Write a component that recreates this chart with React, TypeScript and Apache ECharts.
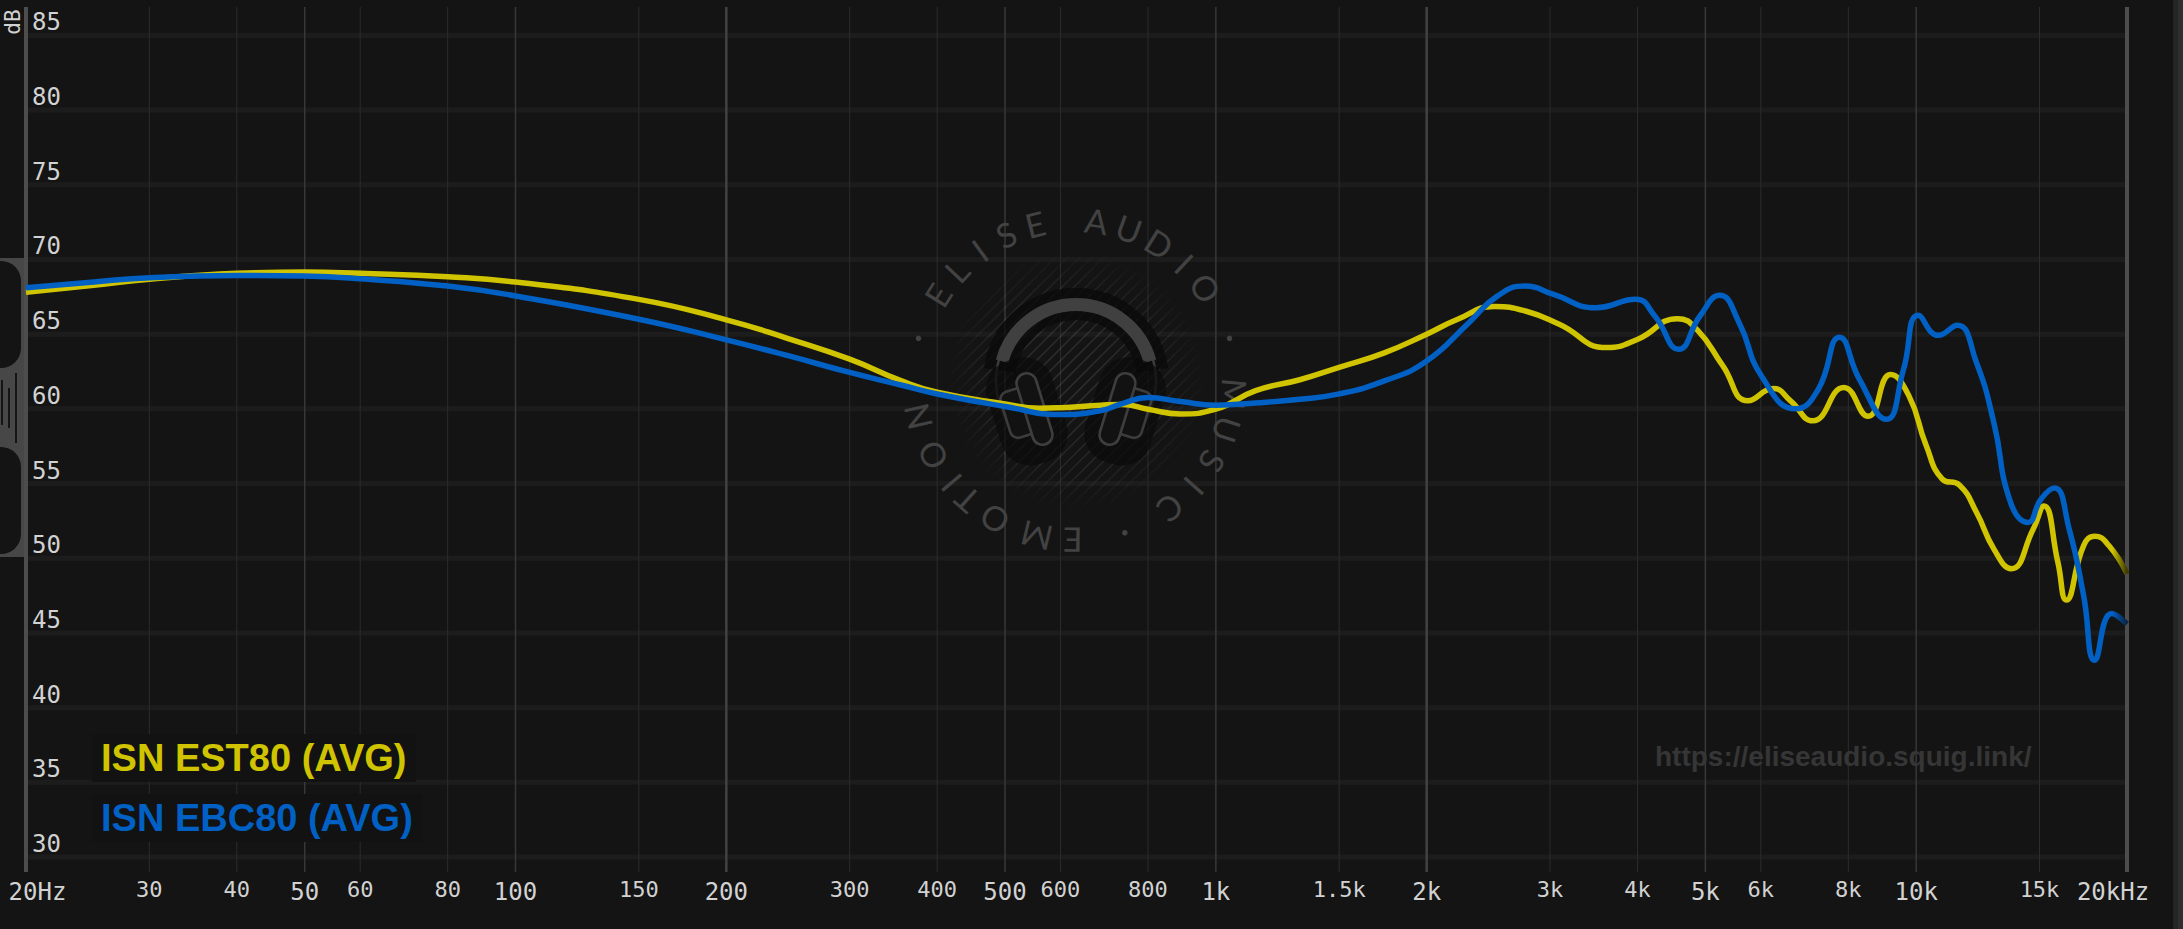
import React, { useEffect, useRef } from 'react';
import * as echarts from 'echarts';

// ---------- data ----------
const seriesNames = ['ISN EST80 (AVG)', 'ISN EBC80 (AVG)'];

const est80Freq = [20, 25, 30, 40, 50, 60, 80, 100, 150, 200, 245, 300, 355, 400, 500, 560, 600, 686, 735, 800, 890, 1000, 1140, 1318, 1500, 1740, 2000, 2215, 2498, 2767, 3093, 3618, 4004, 4562, 4865, 5294, 5752, 6255, 6616, 7118, 7882, 8536, 9192, 9765, 10325, 10897, 11525, 12191, 12907, 13668, 14696, 15222, 15932, 16382, 17342, 17986, 18842, 20000];
const est80Db = [67.8, 68.27, 68.67, 69.07, 69.16, 69.07, 68.84, 68.49, 67.33, 65.96, 64.71, 63.33, 61.89, 61.11, 60.33, 60.04, 60.08, 60.25, 60.3, 59.98, 59.66, 59.98, 61.22, 61.95, 62.78, 63.75, 65.0, 66.0, 66.85, 66.55, 65.66, 64.1, 64.66, 66.04, 65.3, 62.9, 60.54, 61.36, 60.54, 59.2, 61.43, 59.5, 62.3, 60.87, 57.6, 55.3, 54.9, 53.08, 50.63, 49.3, 51.96, 53.5, 49.75, 47.2, 50.85, 51.48, 50.85, 48.96];

const ebc80Freq = [20, 25, 30, 40, 50, 60, 80, 100, 150, 200, 245, 300, 355, 400, 500, 600, 686, 735, 800, 890, 1000, 1140, 1318, 1500, 1740, 2000, 2298, 2523, 2767, 3036, 3487, 3980, 4237, 4580, 4910, 5242, 5587, 6013, 6733, 7246, 7771, 8298, 9071, 9588, 10070, 10755, 11445, 12191, 12907, 13636, 14442, 15075, 15755, 16536, 17342, 17986, 19017, 20000];
const ebc80Db = [68.1, 68.49, 68.78, 68.93, 68.89, 68.71, 68.22, 67.56, 66.0, 64.62, 63.56, 62.44, 61.6, 61.0, 60.16, 59.62, 59.89, 60.35, 60.76, 60.49, 60.25, 60.4, 60.65, 61.0, 61.87, 63.2, 65.77, 67.55, 68.22, 67.66, 66.77, 67.33, 66.2, 63.99, 66.2, 67.6, 65.77, 62.2, 60.0, 61.3, 64.8, 61.98, 59.3, 62.6, 66.26, 64.92, 65.6, 63.1, 59.1, 53.75, 52.4, 53.96, 54.7, 51.96, 47.5, 43.17, 46.3, 45.6];

const xTickValues = [20, 30, 40, 50, 60, 80, 100, 150, 200, 300, 400, 500, 600, 800, 1000, 1500, 2000, 3000, 4000, 5000, 6000, 8000, 10000, 15000, 20000];
const xTickLabels = ['20Hz', '30', '40', '50', '60', '80', '100', '150', '200', '300', '400', '500', '600', '800', '1k', '1.5k', '2k', '3k', '4k', '5k', '6k', '8k', '10k', '15k', '20kHz'];
const xMajorTicks = [20, 50, 100, 200, 500, 1000, 2000, 5000, 10000, 20000];
const xStrongTicks = [200, 2000];
const yTickValues = [30, 35, 40, 45, 50, 55, 60, 65, 70, 75, 80, 85];

const watermarkUrl = 'https://eliseaudio.squig.link/';
const ringLetters: [string, number][] = [
  ['E', -148], ['L', -137], ['I', -126], ['S', -115], ['E', -104],
  ['A', -82], ['U', -70], ['D', -58], ['I', -46.5], ['O', -35],
  ['M', 5], ['U', 18], ['S', 30.5], ['I', 41.5], ['C', 53],
  ['E', 90.4], ['M', 103.5], ['O', 119.7], ['T', 131.7], ['I', 140], ['O', 152], ['N', 166.8],
];
const ringDots = [-15, 71.6, 195];

// ---------- layout / style ----------
const W = 2183;
const H = 929;
const GRID_L = 26;
const GRID_R = 2127;
const GRID_T = 7;
const GRID_B = 872;
const X_MIN = 20;
const X_MAX = 20000;
const Y_MIN = 29;
const Y_MAX = 86.9;
const BG = '#141414';
const YELLOW = '#d0c400';
const BLUE = '#0060c4';
const LABEL = '#d2d2d2';
const MONO = '"DejaVu Sans Mono", monospace';
const SANS = '"Liberation Sans", Arial, sans-serif';

function buildWatermark(): any[] {
  const els: any[] = [];
  const cx = 1076;
  const cy = 381;
  // hatching
  const HR = 132;
  const HS = 12;
  const start = -Math.floor((HR * Math.SQRT2) / HS) * HS;
  for (let d = start; d <= HR * Math.SQRT2; d += HS) {
    const h2 = HR * HR - (d * d) / 2;
    if (h2 <= 0) continue;
    const h = Math.sqrt(h2);
    const mx = cx + d / 2;
    const my = cy + d / 2;
    const k = h * Math.SQRT1_2;
    els.push({
      type: 'line', z: 2, silent: true,
      shape: { x1: mx - k, y1: my + k, x2: mx + k, y2: my - k },
      style: {
        stroke: new echarts.graphic.RadialGradient(cx, cy, HR, [
          { offset: 0, color: 'rgba(255,255,255,0.13)' },
          { offset: 0.65, color: 'rgba(255,255,255,0.09)' },
          { offset: 1, color: 'rgba(255,255,255,0.0)' },
        ], true),
        lineWidth: 1.3,
      },
    });
  }
  // dark halo along headband
  els.push({
    type: 'arc', z: 2, silent: true,
    shape: { cx, cy, r: 77, startAngle: (188 * Math.PI) / 180, endAngle: (352 * Math.PI) / 180, clockwise: true },
    style: { stroke: 'rgba(10,10,10,0.75)', lineWidth: 32, fill: 'none' },
  });
  // thin side arcs
  els.push({
    type: 'arc', z: 2, silent: true,
    shape: { cx, cy, r: 80, startAngle: (150 * Math.PI) / 180, endAngle: (196 * Math.PI) / 180, clockwise: true },
    style: { stroke: '#3c3c3c', lineWidth: 2.4, fill: 'none' },
  });
  els.push({
    type: 'arc', z: 2, silent: true,
    shape: { cx, cy, r: 80, startAngle: (344 * Math.PI) / 180, endAngle: (390 * Math.PI) / 180, clockwise: true },
    style: { stroke: '#3c3c3c', lineWidth: 2.4, fill: 'none' },
  });
  // headband
  els.push({
    type: 'arc', z: 2, silent: true,
    shape: { cx, cy, r: 76.5, startAngle: (195 * Math.PI) / 180, endAngle: (345 * Math.PI) / 180, clockwise: true },
    style: { stroke: '#404040', lineWidth: 13, fill: 'none' },
  });
  // earcups
  const cup = (side: number) => ({
    type: 'group', z: 2, silent: true,
    x: cx + side * 41.5, y: 409, rotation: -side * 0.3,
    children: [
      { type: 'rect', z: 2, shape: { x: side < 0 ? -42 : -26, y: -54, width: 68, height: 108, r: 30 }, style: { fill: 'rgba(10,10,10,0.7)' } },
      { type: 'rect', z: 2, shape: { x: side < 0 ? -30 : 4, y: -25, width: 26, height: 48, r: 8 }, style: { fill: '#121212', stroke: '#3c3c3c', lineWidth: 2.6 } },
      { type: 'rect', z: 2, shape: { x: -10, y: -37, width: 20, height: 74, r: 10 }, style: { fill: '#121212', stroke: '#3e3e3e', lineWidth: 2.6 } },
    ],
  });
  els.push(cup(-1));
  els.push(cup(1));
  // ring text
  const rx = 1074;
  const ry = 380;
  const rr = 161;
  ringLetters.forEach(([ch, deg]) => {
    const a = (deg * Math.PI) / 180;
    els.push({
      type: 'text', z: 2, silent: true,
      x: rx + rr * Math.cos(a), y: ry + rr * Math.sin(a),
      rotation: -(a + Math.PI / 2),
      style: { text: ch, fill: '#424242', fontSize: 34, fontWeight: 'normal', fontFamily: 'Lato, "Open Sans", sans-serif', align: 'center', verticalAlign: 'middle' },
    });
  });
  ringDots.forEach((deg) => {
    const a = (deg * Math.PI) / 180;
    els.push({
      type: 'circle', z: 2, silent: true,
      shape: { cx: rx + rr * Math.cos(a), cy: ry + rr * Math.sin(a), r: 2.8 },
      style: { fill: '#424242' },
    });
  });
  return els;
}

function buildChrome(): any[] {
  const els: any[] = [];
  // left handle
  els.push({ type: 'rect', z: 4, silent: true, shape: { x: 0, y: 258, width: 24, height: 299 }, style: { fill: '#474747' } });
  els.push({ type: 'rect', z: 4, silent: true, shape: { x: -30, y: 261, width: 51, height: 107, r: 20 }, style: { fill: BG } });
  els.push({ type: 'rect', z: 4, silent: true, shape: { x: -30, y: 447, width: 51, height: 107, r: 20 }, style: { fill: BG } });
  [[2, 380, 425], [9, 388, 428], [16, 373, 443]].forEach(([x, y1, y2]) => {
    els.push({ type: 'line', z: 4, silent: true, shape: { x1: x, y1, x2: x, y2 }, style: { stroke: '#151515', lineWidth: 2 } });
  });
  // right strip
  els.push({ type: 'rect', z: 4, silent: true, shape: { x: 2173, y: 0, width: 5, height: H }, style: { fill: '#252525' } });
  els.push({ type: 'rect', z: 4, silent: true, shape: { x: 2178, y: 0, width: 5, height: H }, style: { fill: '#2e2e2e' } });
  // dB label
  els.push({
    type: 'text', z: 4, silent: true, x: 13, y: 22, rotation: Math.PI / 2,
    style: { text: 'dB', fill: LABEL, fontSize: 21, fontFamily: MONO, align: 'center', verticalAlign: 'middle' },
  });
  // url watermark
  els.push({
    type: 'text', z: 2, silent: true, x: 1655, y: 756,
    style: { text: watermarkUrl, fill: '#363636', fontSize: 28, fontWeight: 'bold', fontFamily: SANS, align: 'left', verticalAlign: 'middle' },
  });
  // legend
  els.push({ type: 'rect', z: 4, silent: true, shape: { x: 92, y: 734, width: 324, height: 48 }, style: { fill: '#121212' } });
  els.push({ type: 'rect', z: 4, silent: true, shape: { x: 92, y: 794, width: 330, height: 48 }, style: { fill: '#121212' } });
  els.push({
    type: 'text', z: 5, silent: true, x: 101, y: 758,
    style: { text: seriesNames[0], fill: YELLOW, fontSize: 38, fontWeight: 'bold', fontFamily: SANS, align: 'left', verticalAlign: 'middle' },
  });
  els.push({
    type: 'text', z: 5, silent: true, x: 101, y: 818,
    style: { text: seriesNames[1], fill: BLUE, fontSize: 38, fontWeight: 'bold', fontFamily: SANS, align: 'left', verticalAlign: 'middle' },
  });
  return els;
}

function fadeGradient(color: string, end: string) {
  return new echarts.graphic.LinearGradient(0, 0, 1, 0, [
    { offset: 0, color },
    { offset: 0.993, color },
    { offset: 1, color: end },
  ]);
}

export default function App() {
  const ref = useRef<HTMLDivElement>(null);

  useEffect(() => {
    if (!ref.current) return;
    document.body.style.margin = '0';
    document.body.style.background = BG;
    document.body.style.overflow = 'hidden';
    const chart = echarts.init(ref.current, null, { renderer: 'svg' });

    const option: any = {
      animation: false,
      backgroundColor: BG,
      grid: { left: GRID_L, right: W - GRID_R, top: GRID_T, bottom: H - GRID_B, containLabel: false },
      xAxis: { type: 'log', logBase: 10, min: X_MIN, max: X_MAX, show: false },
      yAxis: { type: 'value', min: Y_MIN, max: Y_MAX, show: false },
      tooltip: { show: false },
      graphic: [...buildWatermark(), ...buildChrome()],
      series: [
        {
          type: 'custom', name: 'hgrid', silent: true, z: 0, clip: false,
          data: yTickValues.map((v) => [X_MIN, v]),
          renderItem: (params: any, api: any) => {
            const v = yTickValues[params.dataIndex];
            const pl = api.coord([X_MIN, v]);
            const pr = api.coord([X_MAX, v]);
            return {
              type: 'group',
              children: [
                { type: 'line', shape: { x1: pl[0] + 2, y1: pl[1], x2: pr[0] - 2, y2: pr[1] }, style: { stroke: '#1c1c1c', lineWidth: 5 } },
                { type: 'text', style: { text: String(v), x: pl[0] + 6, y: pl[1] - 13, align: 'left', verticalAlign: 'middle', fill: LABEL, fontSize: 24, fontFamily: MONO } },
              ],
            };
          },
        },
        {
          type: 'custom', name: 'vgrid', silent: true, z: 1, clip: false,
          data: xTickValues.map((v) => [v, Y_MIN]),
          renderItem: (params: any, api: any) => {
            const i = params.dataIndex;
            const v = xTickValues[i];
            const pTop = api.coord([v, Y_MAX]);
            const pBot = api.coord([v, Y_MIN]);
            const edge = v === X_MIN || v === X_MAX;
            const strong = xStrongTicks.includes(v);
            const major = xMajorTicks.includes(v);
            const stroke = edge ? '#4d4d4d' : strong ? '#424242' : major ? '#383838' : '#2c2c2c';
            const lw = edge ? 4 : strong ? 2.5 : major ? 1.5 : 1;
            let lx = pBot[0];
            if (i === 0) lx += 11.5;
            if (i === xTickValues.length - 1) lx -= 14;
            return {
              type: 'group',
              children: [
                { type: 'line', shape: { x1: pBot[0], y1: pTop[1], x2: pBot[0], y2: pBot[1] }, style: { stroke, lineWidth: lw } },
                {
                  type: 'text',
                  style: {
                    text: xTickLabels[i], x: lx, y: pBot[1] + (major ? 19.5 : 17.5),
                    align: 'center', verticalAlign: 'middle', fill: LABEL,
                    fontSize: major ? 24 : 22, fontFamily: MONO,
                  },
                },
              ],
            };
          },
        },
        {
          type: 'line', name: seriesNames[0], z: 3, silent: true, smooth: 0.5, showSymbol: false, symbol: 'none',
          data: est80Freq.map((f, i) => [f, est80Db[i]]),
          lineStyle: { width: 5.5, color: fadeGradient(YELLOW, '#3d3900') },
          emphasis: { disabled: true },
        },
        {
          type: 'line', name: seriesNames[1], z: 3, silent: true, smooth: 0.5, showSymbol: false, symbol: 'none',
          data: ebc80Freq.map((f, i) => [f, ebc80Db[i]]),
          lineStyle: { width: 5.5, color: fadeGradient(BLUE, '#0a2340') },
          emphasis: { disabled: true },
        },
      ],
    };

    chart.setOption(option);
    return () => chart.dispose();
  }, []);

  return (
    <div style={{ position: 'fixed', left: 0, top: 0, width: W, height: H, margin: 0, padding: 0 }}>
      <div ref={ref} style={{ width: W, height: H }} />
    </div>
  );
}
